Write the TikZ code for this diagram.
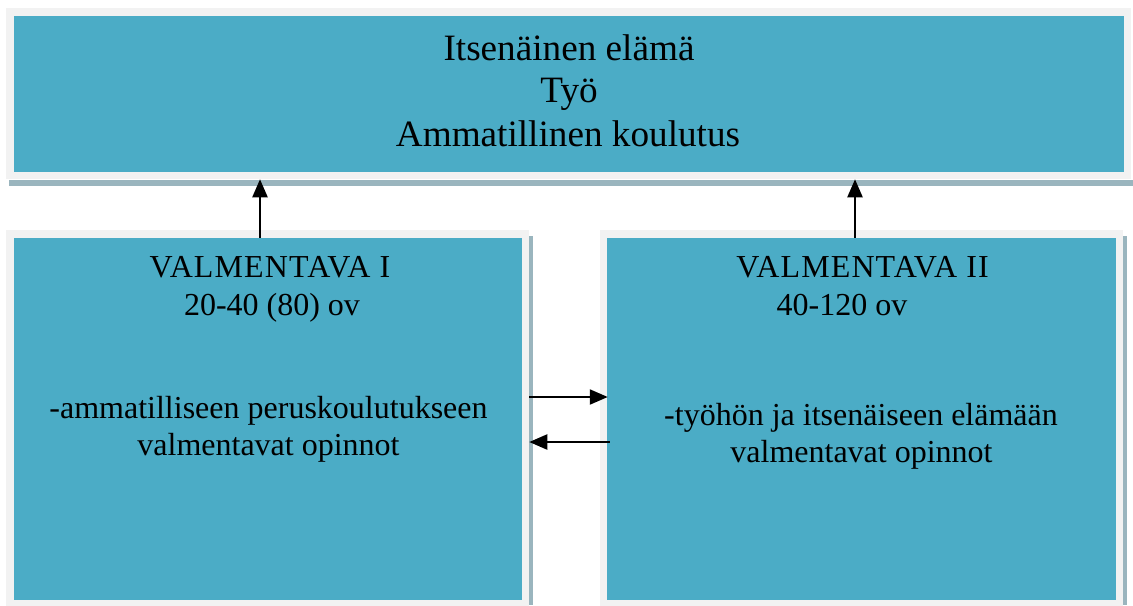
\documentclass[tikz,border=0pt]{standalone}
\usepackage{fontspec}
\setmainfont{Liberation Serif}
\usetikzlibrary{arrows.meta,positioning}
\definecolor{boxteal}{HTML}{4BACC6}
\definecolor{framegray}{HTML}{F2F2F2}
\definecolor{shadowgray}{HTML}{9AB5BE}

\begin{document}
\begin{tikzpicture}[x=0.5pt, y=-0.5pt,
    panel/.style={rectangle, fill=boxteal, draw=framegray, line width=3.75pt},
    bigtxt/.style={anchor=base, inner sep=0pt, font=\fontsize{18.6}{21.5}\selectfont},
    smalltxt/.style={anchor=base, inner sep=0pt, font=\fontsize{16}{19}\selectfont},
    headtxt/.style={smalltxt, font=\fontsize{16}{19}\selectfont\addfontfeature{LetterSpace=3.5}},
    link/.style={-{Triangle[length=9pt,width=7.5pt]}, line width=1.1pt}]
    \useasboundingbox (0,0) rectangle (1133,605);
    \node[panel, minimum width=558.75pt, minimum height=81.75pt] (goal) at (568.75,93.75) {};
    \node[panel, minimum width=257.75pt, minimum height=185pt] (valmI) at (267.75,419) {};
    \node[panel, minimum width=258pt, minimum height=185pt] (valmII) at (861.5,419) {};
    \fill[shadowgray] (9,180) rectangle (1133,186);
    \fill[shadowgray] (529,236) rectangle (533,605);
    \fill[shadowgray] (1123,236) rectangle (1127,605);

    \node[bigtxt] (goal1) at (569,60) {Itsenäinen elämä};
    \node[bigtxt] (goal2) at (569,102) {Työ};
    \node[bigtxt] (goal3) at (568,146) {Ammatillinen koulutus};

    \node[headtxt] (valmIa) at (270,277) {VALMENTAVA I};
    \node[smalltxt] (valmIb) at (272,315) {20-40 (80) ov};
    \node[smalltxt] (valmIc) at (268.5,418) {-ammatilliseen peruskoulutukseen};
    \node[smalltxt] (valmId) at (268.5,455) {valmentavat opinnot};

    \node[headtxt] (valmIIa) at (862.5,277) {VALMENTAVA II};
    \node[smalltxt] (valmIIb) at (842,315) {40-120 ov};
    \node[smalltxt] (valmIIc) at (861,425) {-työhön ja itsenäiseen elämään};
    \node[smalltxt] (valmIId) at (861.5,462) {valmentavat opinnot};

    \coordinate (upL) at (260,0);
    \coordinate (upR) at (855,0);
    \coordinate (rowA) at (0,397);
    \coordinate (rowB) at (0,442);
    \draw[link, shorten <=-3.75pt] (valmI.north -| upL) -- (goal.south -| upL);
    \draw[link, shorten <=-3.75pt] (valmII.north -| upR) -- (goal.south -| upR);
    \draw[link, shorten >=-4pt] (valmI.east |- rowA) -- (valmII.west |- rowA);
    \draw[link, shorten <=-5pt] (valmII.west |- rowB) -- (valmI.east |- rowB);
\end{tikzpicture}
\end{document}
